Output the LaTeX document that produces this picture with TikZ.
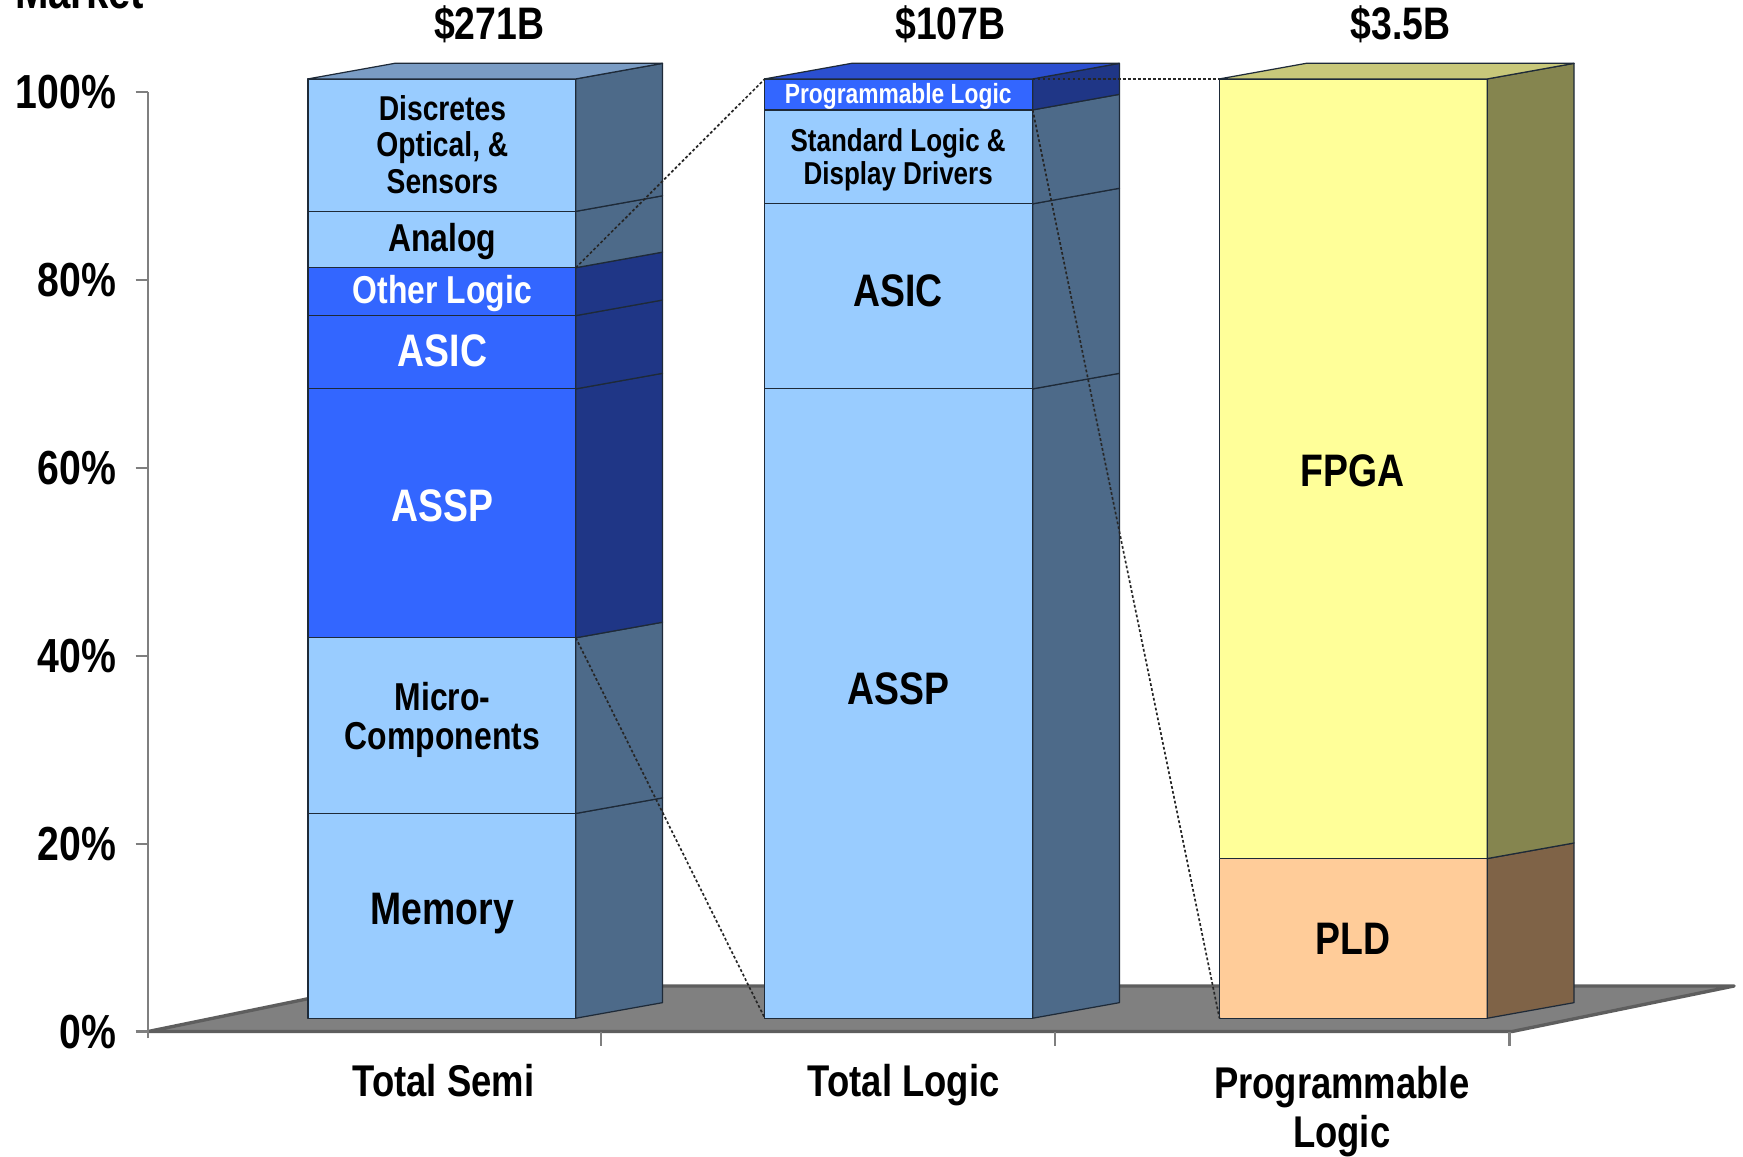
\documentclass[tikz,border=0pt]{standalone}
\usepackage{fontspec}
\setmainfont[FakeStretch=0.82]{Liberation Sans}
\usetikzlibrary{positioning}
\definecolor{skyfront}{HTML}{99CCFF}
\definecolor{skyside}{HTML}{4D6A89}
\definecolor{skytop}{HTML}{7A9CC4}
\definecolor{royalfront}{HTML}{3366FF}
\definecolor{royalside}{HTML}{1F3686}
\definecolor{royaltop}{HTML}{2B4FD0}
\definecolor{lemonfront}{HTML}{FFFF99}
\definecolor{lemonside}{HTML}{85854F}
\definecolor{lemontop}{HTML}{C8C87A}
\definecolor{peachfront}{HTML}{FFCC99}
\definecolor{peachside}{HTML}{7F6347}
\definecolor{floorgray}{HTML}{808080}
\definecolor{rimgray}{HTML}{5E5E5E}
\definecolor{axisgray}{HTML}{7F7F7F}
\definecolor{edgeink}{HTML}{1E2A38}
% height of a share (in %) on the bar fronts
\newcommand{\lev}[1]{124+8.45*#1}
% one slice of a bar: x, from, to, front colour, side colour
\newcommand{\barseg}[5]{%
 \draw[face,fill=#4] (#1,{\lev{#2}}) rectangle (#1+241,{\lev{#3}});
 \draw[face,fill=#5] (#1+241,{\lev{#2}}) -- ++(78,14) -- (#1+319,{\lev{#3}+14}) -- (#1+241,{\lev{#3}}) -- cycle;}
\newcommand{\bartop}[2]{%
 \draw[face,fill=#2] (#1,{\lev{100}}) -- ++(241,0) -- ++(78,14) -- ++(-241,0) -- cycle;}

\begin{document}
\begin{tikzpicture}[x=1pt,y=1pt,
 face/.style={draw=edgeink,line width=1.1pt,line join=round},
 axisline/.style={draw=axisgray,line width=2pt},
 hint/.style={draw=black!85,line width=1.5pt,dash pattern=on 2.5pt off 2pt},
 big/.style={font=\fontsize{41}{44}\selectfont\bfseries},
 mid/.style={font=\fontsize{35}{35}\selectfont\bfseries,align=center},
 small/.style={font=\fontsize{31}{33}\selectfont\bfseries,align=center},
 tick/.style={font=\fontsize{43}{44}\selectfont\bfseries,anchor=east},
 cat/.style={font=\fontsize{40}{44}\selectfont\bfseries,align=center,anchor=base}]
\useasboundingbox (0,0) rectangle (1568,1040);
\fill[white] (0,0) rectangle (1568,1040);

% floor and axes
\draw[fill=floorgray,draw=rimgray,line width=3pt,line join=round] (133,112) -- (1360,112) -- (1560,153) -- (333,153) -- cycle;
\draw[axisline] (133,106) -- (133,{112+8.45*100});
\foreach \p in {0,20,...,100} {
 \draw[axisline] (122,{112+8.45*\p}) -- (133,{112+8.45*\p});
 \node[tick] (y\p) at (108,{112+8.45*\p}) {\p\%};
}
\foreach \t in {541,949,1358} \draw[axisline] (\t,112) -- (\t,99);
\node[font=\fontsize{44}{44}\selectfont\bfseries,anchor=base west] (mkt) at (10,1032) {Market};

% total semi
\foreach \lo/\hi/\fc/\sc in {0/21.8/skyfront/skyside,21.8/40.5/skyfront/skyside,
 40.5/67/royalfront/royalside,67/74.8/royalfront/royalside,74.8/79.9/royalfront/royalside,
 79.9/85.9/skyfront/skyside,85.9/100/skyfront/skyside}
 {\barseg{277}{\lo}{\hi}{\fc}{\sc}}
\bartop{277}{skytop}

% total logic
\foreach \lo/\hi/\fc/\sc in {0/67/skyfront/skyside,67/86.7/skyfront/skyside,
 86.7/96.7/skyfront/skyside,96.7/100/royalfront/royalside}
 {\barseg{688}{\lo}{\hi}{\fc}{\sc}}
\bartop{688}{royaltop}

% programmable logic
\barseg{1097}{0}{17}{peachfront}{peachside}
\barseg{1097}{17}{100}{lemonfront}{lemonside}
\bartop{1097}{lemontop}

% zoom lines between the bars
\coordinate (semiHi) at (518,{\lev{79.9}});
\coordinate (semiLo) at (518,{\lev{40.5}});
\coordinate (logicTop) at (688,{\lev{100}});
\coordinate (logicBot) at (688,{\lev{0}});
\coordinate (logicPlHi) at (929,{\lev{100}});
\coordinate (logicPlLo) at (929,{\lev{96.7}});
\coordinate (plTop) at (1097,{\lev{100}});
\coordinate (plBot) at (1097,{\lev{0}});
\draw[hint] (semiHi) -- (logicTop);
\draw[hint] (semiLo) -- (logicBot);
\draw[hint] (logicPlHi) -- (plTop);
\draw[hint] (logicPlLo) -- (plBot);

% slice labels
\node[big] (mem) at (398,218) {Memory};
\node[mid] (micro) at (398,392) {Micro-\\Components};
\node[big,text=white] (assp1) at (398,585) {ASSP};
\node[big,text=white] (asic1) at (398,724) {ASIC};
\node[mid,text=white] (other) at (398,776) {Other Logic};
\node[mid] (analog) at (398,823) {Analog};
\node[small] (disc) at (398,910) {Discretes\\Optical, \&\\Sensors};
\node[big] (assp2) at (808,420) {ASSP};
\node[big] (asic2) at (808,778) {ASIC};
\node[font=\fontsize{28.5}{30}\selectfont\bfseries,align=center] (std) at (808,896) {Standard Logic \&\\Display Drivers};
\node[font=\fontsize{25}{25}\selectfont\bfseries,text=white,inner sep=0pt] (plg) at (808,953) {Programmable Logic};
\node[big] (pld) at (1217,195) {PLD};
\node[big] (fpga) at (1217,616) {FPGA};

% totals and categories
\node[big] (v1) at (440,1018) {\$271B};
\node[big] (v2) at (855,1018) {\$107B};
\node[big] (v3) at (1260,1018) {\$3.5B};
\node[cat] (c1) at (399,54) {Total Semi};
\node[cat] (c2) at (813,54) {Total Logic};
\node[cat,anchor=center] (c3) at (1207,40) {Programmable\\Logic};
\end{tikzpicture}
\end{document}
